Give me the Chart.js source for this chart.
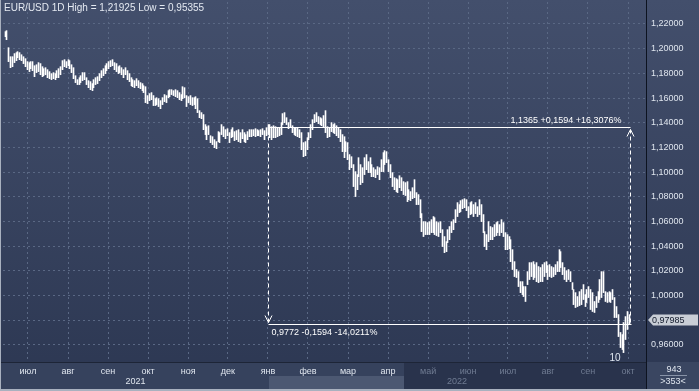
<!DOCTYPE html>
<html>
<head>
<meta charset="utf-8">
<script src="https://cdn.jsdelivr.net/npm/chart.js@4.4.1/dist/chart.umd.min.js"></script>
<style>
  html, body { margin: 0; padding: 0; background: #2e3953; overflow: hidden; }
  #wrap { width: 699px; height: 391px; }
</style>
</head>
<body>
<div id="wrap"><canvas id="chart" width="699" height="391"></canvas></div>
<script>
// EUR/USD daily bars, mid-June 2021 .. early October 2022
const highs = [
  1.2138, 1.2146, 1.2008, 1.1935, 1.1935, 1.1960, 1.1968, 1.1976, 1.1968, 1.1951,
  1.1935, 1.1919, 1.1895, 1.1887, 1.1895, 1.1895, 1.1862, 1.1870, 1.1887, 1.1879,
  1.1854, 1.1838, 1.1846, 1.1830, 1.1814, 1.1798, 1.1806, 1.1798, 1.1822, 1.1838,
  1.1854, 1.1903, 1.1911, 1.1895, 1.1911, 1.1903, 1.1870, 1.1846, 1.1781, 1.1749,
  1.1765, 1.1781, 1.1806, 1.1806, 1.1765, 1.1741, 1.1733, 1.1717, 1.1749, 1.1765,
  1.1773, 1.1798, 1.1822, 1.1838, 1.1862, 1.1879, 1.1895, 1.1903, 1.1911, 1.1887,
  1.1879, 1.1854, 1.1862, 1.1846, 1.1830, 1.1846, 1.1822, 1.1798, 1.1765, 1.1749,
  1.1741, 1.1757, 1.1741, 1.1725, 1.1717, 1.1700, 1.1692, 1.1620, 1.1636, 1.1644,
  1.1620, 1.1595, 1.1603, 1.1595, 1.1579, 1.1603, 1.1628, 1.1620, 1.1660, 1.1668,
  1.1668, 1.1660, 1.1668, 1.1660, 1.1644, 1.1628, 1.1692, 1.1684, 1.1620, 1.1611,
  1.1620, 1.1603, 1.1603, 1.1611, 1.1595, 1.1498, 1.1482, 1.1466, 1.1385, 1.1368,
  1.1376, 1.1295, 1.1287, 1.1263, 1.1247, 1.1328, 1.1320, 1.1385, 1.1368, 1.1344,
  1.1352, 1.1320, 1.1344, 1.1360, 1.1328, 1.1336, 1.1344, 1.1320, 1.1344, 1.1320,
  1.1304, 1.1328, 1.1344, 1.1344, 1.1344, 1.1352, 1.1344, 1.1336, 1.1344, 1.1352,
  1.1336, 1.1360, 1.1385, 1.1385, 1.1368, 1.1376, 1.1368, 1.1360, 1.1360, 1.1401,
  1.1474, 1.1482, 1.1441, 1.1401, 1.1425, 1.1376, 1.1360, 1.1360, 1.1360, 1.1344,
  1.1320, 1.1239, 1.1247, 1.1279, 1.1320, 1.1385, 1.1425, 1.1466, 1.1482, 1.1450,
  1.1441, 1.1433, 1.1458, 1.1498, 1.1368, 1.1360, 1.1401, 1.1385, 1.1393, 1.1376,
  1.1360, 1.1344, 1.1304, 1.1287, 1.1247, 1.1239, 1.1142, 1.1125, 1.1061, 1.1004,
  1.0980, 1.1117, 1.1061, 1.1036, 1.1117, 1.1142, 1.1085, 1.1117, 1.1061, 1.1036,
  1.1020, 1.1044, 1.1036, 1.1101, 1.1158, 1.1174, 1.1166, 1.1101, 1.1061, 1.0996,
  1.0955, 1.0947, 1.0939, 1.0971, 1.0955, 1.0923, 1.0915, 1.0923, 1.0858, 1.0842,
  1.0874, 1.0939, 1.0834, 1.0818, 1.0777, 1.0664, 1.0599, 1.0599, 1.0591, 1.0599,
  1.0615, 1.0640, 1.0631, 1.0599, 1.0591, 1.0599, 1.0534, 1.0478, 1.0437, 1.0534,
  1.0559, 1.0599, 1.0615, 1.0696, 1.0753, 1.0737, 1.0769, 1.0777, 1.0785, 1.0777,
  1.0720, 1.0753, 1.0761, 1.0737, 1.0753, 1.0720, 1.0777, 1.0737, 1.0656, 1.0518,
  1.0494, 1.0599, 1.0559, 1.0551, 1.0575, 1.0591, 1.0599, 1.0575, 1.0615, 1.0591,
  1.0510, 1.0494, 1.0478, 1.0453, 1.0372, 1.0275, 1.0211, 1.0194, 1.0113, 1.0113,
  1.0073, 1.0073, 1.0194, 1.0267, 1.0267, 1.0275, 1.0251, 1.0267, 1.0235, 1.0227,
  1.0251, 1.0267, 1.0275, 1.0243, 1.0251, 1.0235, 1.0227, 1.0251, 1.0275, 1.0372,
  1.0356, 1.0267, 1.0227, 1.0202, 1.0211, 1.0194, 1.0105, 1.0049, 1.0024, 0.9992,
  1.0032, 1.0049, 1.0089, 1.0008, 1.0049, 1.0073, 1.0049, 1.0024, 0.9952, 0.9992,
  1.0032, 1.0130, 1.0194, 1.0194, 1.0032, 1.0024, 1.0032, 1.0024, 1.0049, 0.9984,
  0.9911, 0.9846, 0.9701, 0.9684, 0.9782, 0.9830, 0.9871, 0.9846
];
const lows = [
  1.2097, 1.2073, 1.1895, 1.1846, 1.1854, 1.1887, 1.1903, 1.1927, 1.1911, 1.1903,
  1.1879, 1.1854, 1.1830, 1.1814, 1.1838, 1.1822, 1.1773, 1.1806, 1.1814, 1.1789,
  1.1773, 1.1781, 1.1789, 1.1765, 1.1757, 1.1749, 1.1757, 1.1749, 1.1765, 1.1765,
  1.1789, 1.1830, 1.1854, 1.1846, 1.1862, 1.1838, 1.1806, 1.1757, 1.1725, 1.1709,
  1.1709, 1.1725, 1.1741, 1.1749, 1.1709, 1.1684, 1.1668, 1.1660, 1.1684, 1.1709,
  1.1717, 1.1741, 1.1765, 1.1781, 1.1798, 1.1822, 1.1838, 1.1854, 1.1862, 1.1830,
  1.1814, 1.1798, 1.1806, 1.1789, 1.1765, 1.1789, 1.1749, 1.1733, 1.1700, 1.1692,
  1.1684, 1.1700, 1.1684, 1.1676, 1.1660, 1.1644, 1.1563, 1.1555, 1.1579, 1.1587,
  1.1539, 1.1539, 1.1547, 1.1531, 1.1514, 1.1547, 1.1571, 1.1563, 1.1603, 1.1611,
  1.1628, 1.1620, 1.1611, 1.1603, 1.1587, 1.1579, 1.1595, 1.1603, 1.1531, 1.1563,
  1.1547, 1.1539, 1.1547, 1.1514, 1.1482, 1.1441, 1.1433, 1.1344, 1.1304, 1.1263,
  1.1304, 1.1239, 1.1223, 1.1198, 1.1190, 1.1247, 1.1239, 1.1304, 1.1287, 1.1271,
  1.1295, 1.1239, 1.1279, 1.1287, 1.1255, 1.1263, 1.1247, 1.1239, 1.1271, 1.1247,
  1.1239, 1.1263, 1.1287, 1.1287, 1.1295, 1.1287, 1.1295, 1.1295, 1.1287, 1.1304,
  1.1263, 1.1295, 1.1304, 1.1279, 1.1263, 1.1279, 1.1279, 1.1287, 1.1295, 1.1304,
  1.1385, 1.1401, 1.1385, 1.1352, 1.1368, 1.1320, 1.1304, 1.1295, 1.1287, 1.1279,
  1.1182, 1.1125, 1.1133, 1.1182, 1.1263, 1.1279, 1.1344, 1.1401, 1.1409, 1.1393,
  1.1385, 1.1376, 1.1360, 1.1320, 1.1279, 1.1287, 1.1328, 1.1320, 1.1312, 1.1295,
  1.1279, 1.1247, 1.1166, 1.1117, 1.1166, 1.1101, 1.1020, 1.1036, 1.0883, 1.0802,
  1.0858, 1.0963, 1.0899, 1.0915, 1.0980, 1.1020, 1.0996, 1.0996, 1.0963, 1.0963,
  1.0955, 1.0980, 1.0939, 1.1004, 1.1004, 1.1061, 1.1077, 1.1004, 1.0955, 1.0883,
  1.0858, 1.0842, 1.0834, 1.0874, 1.0850, 1.0818, 1.0810, 1.0761, 1.0777, 1.0769,
  1.0785, 1.0793, 1.0737, 1.0737, 1.0631, 1.0518, 1.0478, 1.0494, 1.0494, 1.0494,
  1.0510, 1.0510, 1.0494, 1.0486, 1.0478, 1.0510, 1.0397, 1.0348, 1.0356, 1.0429,
  1.0453, 1.0510, 1.0534, 1.0591, 1.0640, 1.0672, 1.0680, 1.0704, 1.0712, 1.0688,
  1.0631, 1.0656, 1.0664, 1.0640, 1.0664, 1.0640, 1.0656, 1.0599, 1.0510, 1.0397,
  1.0372, 1.0437, 1.0453, 1.0453, 1.0478, 1.0486, 1.0510, 1.0486, 1.0510, 1.0478,
  1.0372, 1.0372, 1.0380, 1.0275, 1.0211, 1.0154, 1.0146, 1.0073, 1.0024, 1.0008,
  0.9992, 0.9952, 1.0089, 1.0130, 1.0154, 1.0130, 1.0146, 1.0113, 1.0105, 1.0113,
  1.0113, 1.0154, 1.0186, 1.0130, 1.0154, 1.0146, 1.0154, 1.0170, 1.0194, 1.0194,
  1.0227, 1.0170, 1.0130, 1.0113, 1.0130, 1.0113, 1.0049, 0.9927, 0.9903, 0.9911,
  0.9919, 0.9927, 0.9968, 0.9911, 0.9944, 0.9984, 0.9887, 0.9871, 0.9863, 0.9903,
  0.9944, 0.9968, 0.9984, 1.0024, 0.9952, 0.9944, 0.9952, 0.9944, 0.9968, 0.9822,
  0.9822, 0.9668, 0.9579, 0.9563, 0.9538, 0.9644, 0.9725, 0.9765
];

// x axis: month labels and the bar position where each label sits
const monthLabels = ['июл', 'авг', 'сен', 'окт', 'ноя', 'дек', 'янв', 'фев', 'мар', 'апр',
                     'май', 'июн', 'июл', 'авг', 'сен', 'окт'];
const monthTickIdx = [12.4, 34.0, 55.6, 77.2, 98.8, 120.3, 141.9, 163.5, 185.1, 206.7,
                      228.3, 249.9, 271.4, 293.0, 314.6, 336.2];
const yearLabels = ['2021', '2022'];
const priceTicks = [0.96, 0.98, 1.00, 1.02, 1.04, 1.06, 1.08, 1.10, 1.12, 1.14, 1.16, 1.18, 1.20, 1.22];

// measuring tool and current quote
const measureFromIdx = 142;
const measureToIdx = 337;
const measureHigh = 1.1365;
const measureLow = 0.9772;
const measureUpText = '1,1365 +0,1594 +16,3076%';
const measureDownText = '0,9772 -0,1594 -14,0211%';
const lastPrice = 0.97985;
const titleText = 'EUR/USD 1D High = 1,21925 Low = 0,95355';

const fmt = (v, d) => v.toFixed(d).replace('.', ',');

const FONT = '"Liberation Sans", Arial, sans-serif';
Chart.defaults.font.family = FONT;
Chart.defaults.font.size = 9;

const bars = highs.map((h, i) => ({ x: i, y: [lows[i], h] }));

const decor = {
    id: 'decor',
    beforeDraw(chart) {
        const ctx = chart.ctx;
        const g = ctx.createLinearGradient(0, 0, 0, 391);
        g.addColorStop(0, '#434f6c');
        g.addColorStop(1, '#2c3752');
        ctx.save();
        ctx.fillStyle = g;
        ctx.fillRect(0, 0, 699, 391);
        // bottom time band
        ctx.fillStyle = '#36425d';
        ctx.fillRect(0, 362, 646, 29);
        ctx.fillStyle = '#4c5872';
        ctx.fillRect(269, 376, 135, 14);
        ctx.fillStyle = '#29334c';
        ctx.fillRect(404, 363, 242, 28);
        ctx.fillStyle = '#3a4661';
        ctx.fillRect(647, 362, 52, 29);
        ctx.restore();
    },
    beforeDatasetsDraw(chart) {
        // snap one-pixel bars to whole pixels
        chart.getDatasetMeta(0).data.forEach(b => { b.x = Math.round(b.x - 0.5) + 0.5; });
    },
    afterDraw(chart) {
        const ctx = chart.ctx;
        const xs = chart.scales.x, ys = chart.scales.y;
        const area = chart.chartArea;
        ctx.save();

        // frame and separators
        ctx.fillStyle = '#0d1320';
        ctx.fillRect(Math.round(area.right), 0, 1, 391);
        ctx.fillStyle = '#1d2537';
        ctx.fillRect(0, 362, 646, 1);
        ctx.fillStyle = '#a9b1bf';
        ctx.fillRect(0, 0, 1, 391);
        ctx.fillRect(0, 389, 699, 2);

        // measuring tool
        const x1 = Math.round(xs.getPixelForValue(measureFromIdx)) + 0.5;
        const x2 = Math.round(xs.getPixelForValue(measureToIdx)) + 0.5;
        const yH = Math.round(ys.getPixelForValue(measureHigh)) + 0.5;
        const yL = Math.round(ys.getPixelForValue(measureLow)) + 0.5;
        ctx.strokeStyle = '#ffffff';
        ctx.lineWidth = 1;
        ctx.beginPath();
        ctx.moveTo(x1, yH); ctx.lineTo(x2, yH);
        ctx.moveTo(x1, yL); ctx.lineTo(x2 + 1, yL);
        ctx.stroke();
        ctx.setLineDash([4, 3]);
        ctx.beginPath();
        ctx.moveTo(x1, yH + 2); ctx.lineTo(x1, yL - 2);
        ctx.moveTo(x2, yL - 2); ctx.lineTo(x2, yH + 2);
        ctx.stroke();
        ctx.setLineDash([]);
        ctx.beginPath();
        ctx.moveTo(x1 - 3.5, yL - 9); ctx.lineTo(x1, yL - 2); ctx.lineTo(x1 + 3.5, yL - 9);
        ctx.moveTo(x2 - 3.5, yH + 9); ctx.lineTo(x2, yH + 2); ctx.lineTo(x2 + 3.5, yH + 9);
        ctx.stroke();

        ctx.fillStyle = '#ffffff';
        ctx.font = '9px ' + FONT;
        ctx.textBaseline = 'middle';
        ctx.textAlign = 'right';
        ctx.fillText(measureUpText, x2 - 9, yH - 7);
        ctx.textAlign = 'left';
        ctx.fillText(measureDownText, x1 + 3, yL + 8);

        // low marker
        ctx.fillStyle = '#dfe6f0';
        ctx.font = '10px ' + FONT;
        ctx.textAlign = 'center';
        ctx.fillText('10', 615, 358);

        // title
        ctx.textAlign = 'left';
        ctx.fillStyle = '#e4e9f1';
        ctx.font = '10px ' + FONT;
        ctx.fillText(titleText, 4, 8);

        // year labels in the time band
        ctx.font = '9px ' + FONT;
        const jan = xs.getPixelForValue(monthTickIdx[6]);
        ctx.textAlign = 'center';
        ctx.fillStyle = '#dfe5ee';
        ctx.fillText(yearLabels[0], (area.left + jan) / 2, 382);
        ctx.fillStyle = '#6f7b92';
        ctx.fillText(yearLabels[1], (jan + area.right) / 2, 382);

        // current price tag
        const yp = Math.round(ys.getPixelForValue(lastPrice));
        ctx.fillStyle = '#c9ced6';
        ctx.beginPath();
        ctx.moveTo(648, yp);
        ctx.lineTo(653, yp - 5.5);
        ctx.lineTo(698, yp - 5.5);
        ctx.lineTo(698, yp + 5.5);
        ctx.lineTo(653, yp + 5.5);
        ctx.closePath();
        ctx.fill();
        ctx.fillStyle = '#121a2b';
        ctx.textAlign = 'left';
        ctx.fillText(fmt(lastPrice, 5), 652, yp + 0.5);

        // bar counter
        ctx.fillStyle = '#dfe5ee';
        ctx.textAlign = 'center';
        ctx.fillText('943', 674, 370);
        ctx.fillText('>353<', 673, 382);
        ctx.fillStyle = '#8893a8';
        ctx.fillRect(660, 375, 27, 1);
        ctx.restore();
    }
};

new Chart(document.getElementById('chart'), {
    type: 'bar',
    data: {
        datasets: [{
            data: bars,
            backgroundColor: '#ffffff',
            borderWidth: 0,
            barThickness: 1
        }]
    },
    plugins: [decor],
    options: {
        responsive: false,
        animation: false,
        devicePixelRatio: 1,
        layout: { padding: { left: 3, top: 2, right: 0, bottom: 0 } },
        plugins: { legend: { display: false }, tooltip: { enabled: false } },
        scales: {
            x: {
                type: 'linear',
                offset: false,
                min: -1.08,
                max: 345.9,
                afterBuildTicks: s => { s.ticks = monthTickIdx.map(v => ({ value: v })); },
                afterFit: s => {
                    s.height = 29;
                    s.paddingLeft = 0; s.paddingRight = 0;
                },
                grid: { color: '#5a6884', drawTicks: false, lineWidth: 1, offset: false },
                border: { display: false, dash: [2, 3] },
                ticks: {
                    autoSkip: false,
                    maxRotation: 0,
                    padding: 4,
                    font: { size: 9 },
                    color: c => (c.index >= 10 ? '#6f7b92' : '#dfe5ee'),
                    callback: (v, i) => monthLabels[i]
                }
            },
            y: {
                position: 'right',
                min: 0.9462,
                max: 1.2378,
                afterBuildTicks: s => { s.ticks = priceTicks.map(v => ({ value: v })); },
                afterFit: s => {
                    s.width = 53;
                    s.paddingTop = 0; s.paddingBottom = 0;
                },
                grid: { color: '#5a6884', drawTicks: false, lineWidth: 1 },
                border: { display: false, dash: [2, 3] },
                ticks: {
                    padding: 5,
                    font: { size: 9 },
                    color: '#dfe5ee',
                    callback: v => fmt(v, 5)
                }
            }
        }
    }
});
</script>
</body>
</html>
